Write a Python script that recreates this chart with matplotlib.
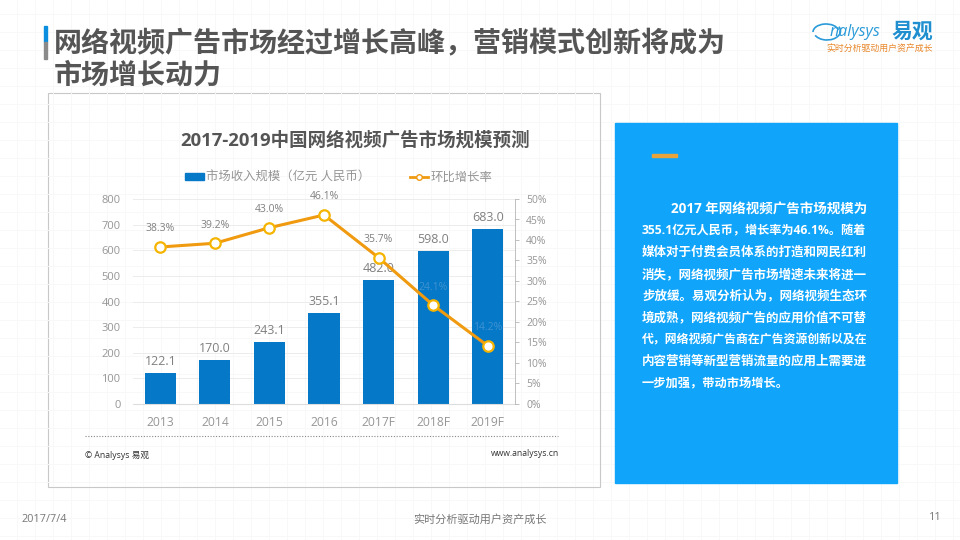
import numpy as np
import matplotlib
matplotlib.use('Agg')
import matplotlib.pyplot as plt
from matplotlib.patches import Rectangle, Arc
from matplotlib.lines import Line2D

plt.rcParams['font.family'] = ['Open Sans', 'Noto Sans CJK SC', 'DejaVu Sans']

# --- data ---
years = ['2013', '2014', '2015', '2016', '2017F', '2018F', '2019F']
revenue = [122.1, 170.0, 243.1, 355.1, 482.0, 598.0, 683.0]
growth = [38.3, 39.2, 43.0, 46.1, 35.7, 24.1, 14.2]
left_ticks = [0, 100, 200, 300, 400, 500, 600, 700, 800]
right_ticks = [0, 5, 10, 15, 20, 25, 30, 35, 40, 45, 50]

title_lines = ['网络视频广告市场经过增长高峰，营销模式创新将成为', '市场增长动力']
chart_title = '2017-2019中国网络视频广告市场规模预测'
panel_lines = [
    '2017 年网络视频广告市场规模为',
    '355.1亿元人民币，增长率为46.1%。随着',
    '媒体对于付费会员体系的打造和网民红利',
    '消失，网络视频广告市场增速未来将进一',
    '步放缓。易观分析认为，网络视频生态环',
    '境成熟，网络视频广告的应用价值不可替',
    '代，网络视频广告商在广告资源创新以及在',
    '内容营销等新型营销流量的应用上需要进',
    '一步加强，带动市场增长。',
]

W, H = 960, 540
BLUE = '#0578C8'
ORANGE = '#F09A10'
GREY = '#969696'
DARK = '#555555'

fig = plt.figure(figsize=(W / 100, H / 100), dpi=100, facecolor='white')

# slide layer in pixel coords
bg = fig.add_axes([0, 0, 1, 1], zorder=0)
bg.set_xlim(0, W)
bg.set_ylim(H, 0)
bg.axis('off')
for x in range(17, W, 18):
    bg.axvline(x, color='#f8f8f8', lw=0.7, zorder=0)
for y in range(14, H, 18):
    bg.axhline(y, color='#f8f8f8', lw=0.7, zorder=0)

bg.add_patch(Rectangle((43.5, 26), 3, 16, color='#0A8FE0'))
bg.add_patch(Rectangle((43.5, 42), 3, 17, color='#8a8a8a'))
for (y, line) in zip([44, 76], title_lines):
    bg.text(54, y, line, fontsize=20.2, fontweight='bold', color=DARK, va='center', ha='left')

bg.add_patch(Rectangle((47.5, 92.5), 552, 394, fc='white', ec='#c8c8c8', lw=0.8, zorder=1))
for x in range(53, 600, 18):
    bg.plot([x, x], [93, 486], color='#f8f8f8', lw=0.7, zorder=1.1)
for y in range(104, 486, 18):
    bg.plot([48, 599], [y, y], color='#f8f8f8', lw=0.7, zorder=1.1)
bg.text(355, 140, chart_title, fontsize=13.3, fontweight='bold', color=DARK, ha='center', va='center')
bg.plot([85, 558], [435.5, 435.5], color='#888888', lw=0.8, ls=(0, (1, 1.5)), zorder=2)
bg.text(85, 455, '© Analysys 易观', fontsize=6.2, color='#333333', va='center')
bg.text(559, 454, 'www.analysys.cn', fontsize=6.2, color='#333333', va='center', ha='right')

# right panel, lines fitted to the justified column width
bg.add_patch(Rectangle((615, 123), 282, 360, color='#10A5FB', zorder=3))
bg.add_patch(Rectangle((652, 153.5), 25, 3.5, color='#E8A33A', zorder=4))
renderer = fig.canvas.get_renderer()
for i, line in enumerate(panel_lines):
    xpos = 671 if i == 0 else 642
    t = bg.text(xpos, 209 + i * 21.8, line, fontsize=8.8, fontweight='bold',
                color='white', va='center', ha='left', zorder=5)
    if i < len(panel_lines) - 1:
        width = t.get_window_extent(renderer).width
        t.set_fontsize(8.8 * (868 - xpos) / width)

# logo
bg.add_patch(Arc((826, 32), 26, 16, theta1=180, theta2=350, color='#2A9BD8', lw=1.2))
bg.add_patch(Arc((827, 31), 27, 18, theta1=160, theta2=340, color='#2A9BD8', lw=1.2, angle=180))
bg.text(830, 32, 'nalysys', fontsize=11.5, style='italic', color='#2A9BD8', va='center')
bg.text(892, 32, '易观', fontsize=15, fontweight='bold', color='#1F8FD0', va='center')
bg.text(826, 49, '实时分析驱动用户资产成长', fontsize=6.4, color='#E8872A', va='center')

# footer
bg.text(21, 519, '2017/7/4', fontsize=7.8, color='#777777', va='center')
bg.text(480, 520, '实时分析驱动用户资产成长', fontsize=8, color='#777777', va='center', ha='center')
bg.text(935, 518, '11', fontsize=7.8, color='#777777', va='center', ha='center')

# chart
x0, x1, ytop, ybot = 133, 515, 199, 404
ax = fig.add_axes([x0 / W, 1 - ybot / H, (x1 - x0) / W, (ybot - ytop) / H], zorder=1)
ax.patch.set_alpha(0)
xs = np.arange(len(years))
ax.bar(xs, revenue, width=0.57, color=BLUE, zorder=2)
ax.set_xlim(-0.5, len(years) - 0.5)
ax.set_ylim(0, 800)
ax.set_xticks(xs, years)
ax.set_yticks(left_ticks)
ax.tick_params(axis='both', length=0, labelcolor=GREY)
ax.tick_params(axis='x', pad=9, labelsize=8.7)
ax.tick_params(axis='y', pad=9, labelsize=8)
ax.grid(axis='y', color='#ececec', lw=0.7, zorder=0)
for s in ['top', 'left', 'right']:
    ax.spines[s].set_visible(False)
ax.spines['bottom'].set_color('#dddddd')
for x, v in zip(xs, revenue):
    ax.text(x, v + 20, f'{v:.1f}', ha='center', va='bottom', fontsize=9, color='#808080', zorder=3)

ax2 = ax.twinx()
ax2.patch.set_alpha(0)
ax2.plot(xs, growth, color=ORANGE, lw=2.2, marker='o', ms=7.5, mfc='white', mec='#F5B400', mew=1.6, zorder=5)
ax2.set_ylim(0, 50)
ax2.set_yticks(right_ticks, [f'{t}%' for t in right_ticks])
ax2.tick_params(axis='y', length=3, width=0.6, color='#b5b5b5', labelsize=7.5, labelcolor=GREY, pad=5)
for s in ['top', 'left', 'bottom']:
    ax2.spines[s].set_visible(False)
ax2.spines['right'].set_color('#b5b5b5')
ax2.spines['right'].set_linewidth(0.6)
label_colors = ['#808080'] * 5 + ['#3f93cf', '#3f93cf']
for x, v, c in zip(xs, growth, label_colors):
    ax2.annotate(f'{v}%', (x, v), xytext=(0, 9), textcoords='offset points', ha='center', va='bottom',
                 fontsize=7.5, color=c, zorder=6)

handles = [Rectangle((0, 0), 1, 1, color=BLUE),
           Line2D([], [], color=ORANGE, lw=2, marker='o', ms=4, mfc='white', mec=ORANGE)]
fig.legend(handles, ['市场收入规模（亿元 人民币）', '环比增长率'], ncol=2, frameon=False,
           loc='center', bbox_to_anchor=(339 / W, 1 - 177 / H), fontsize=8.9, labelcolor=GREY,
           handlelength=1.5, handleheight=0.5, handletextpad=0.2, columnspacing=3.2)

fig.savefig('out.png', dpi=100)
